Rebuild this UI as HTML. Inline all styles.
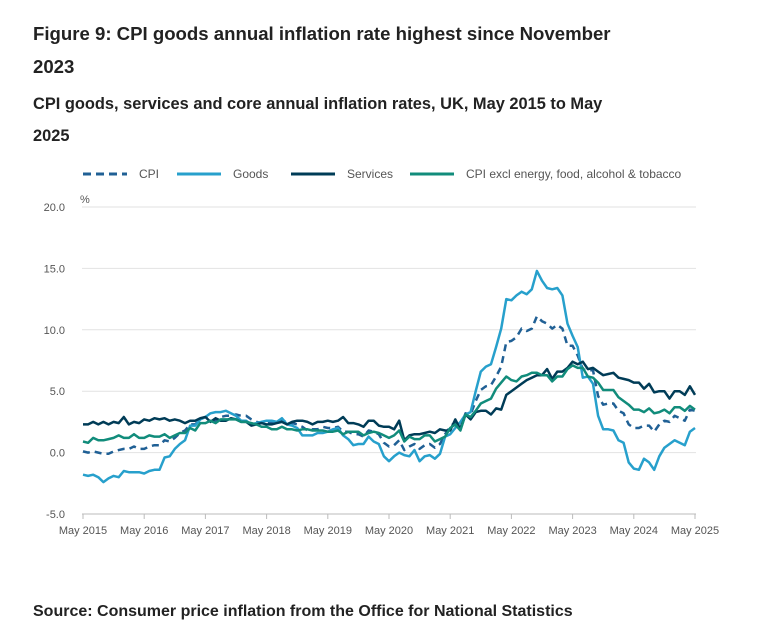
<!DOCTYPE html>
<html><head><meta charset="utf-8"><style>
body{margin:0;background:#fff;font-family:"Liberation Sans",sans-serif;color:#222}
#wrap{position:relative;width:771px;height:636px;overflow:hidden}
h1{position:absolute;left:33px;top:17px;width:600px;margin:0;font-size:18.6px;line-height:33px;font-weight:bold;color:#222}
h2{position:absolute;left:33px;top:88px;width:585px;margin:0;font-size:16.4px;line-height:32px;font-weight:bold;color:#222}
.src{position:absolute;left:33px;top:603px;font-size:16px;font-weight:bold;color:#222}
</style></head><body><div id="wrap">
<h1>Figure 9: CPI goods annual inflation rate highest since November 2023</h1>
<h2>CPI goods, services and core annual inflation rates, UK, May 2015 to May 2025</h2>
<svg id="chart" width="771" height="636" style="position:absolute;left:0;top:0"></svg>
<div class="src">Source: Consumer price inflation from the Office for National Statistics</div>
</div>
<script>
const xLabels=["May 2015","May 2016","May 2017","May 2018","May 2019","May 2020","May 2021","May 2022","May 2023","May 2024","May 2025"];
const yTicks=[-5,0,5,10,15,20];
const cpi=[0.1,0.0,0.1,0.0,-0.1,-0.1,0.1,0.2,
0.3,0.3,0.5,0.3,0.3,0.5,0.6,0.6,1.0,0.9,1.2,1.6,
1.8,2.3,2.3,2.7,2.9,2.6,2.6,2.9,3.0,3.0,3.1,3.0,
3.0,2.7,2.5,2.4,2.4,2.4,2.5,2.7,2.4,2.4,2.3,2.1,
1.8,1.9,1.9,2.1,2.0,2.0,2.1,1.7,1.7,1.5,1.5,1.3,
1.8,1.7,1.5,0.8,0.5,0.6,1.0,0.2,0.5,0.7,0.3,0.6,
0.7,0.4,0.7,1.5,2.1,2.5,2.0,3.2,3.1,4.2,5.1,5.4,
5.5,6.2,7.0,9.0,9.1,9.4,10.1,9.9,10.1,11.1,10.7,10.5,
10.1,10.4,10.1,8.7,8.7,7.9,6.8,6.7,6.7,4.6,3.9,4.0,
4.0,3.4,3.2,2.3,2.0,2.0,2.2,2.2,1.7,2.3,2.6,2.5,
3.0,2.8,2.6,3.5,3.4];
const goods=[-1.8,-1.9,-1.8,-2.0,-2.4,-2.1,-1.9,-2.0,
-1.5,-1.6,-1.6,-1.6,-1.7,-1.5,-1.4,-1.4,-0.4,-0.3,0.3,0.7,
1.0,2.2,2.2,2.7,2.9,3.2,3.3,3.3,3.4,3.2,3.0,2.6,
2.6,2.3,2.4,2.5,2.6,2.6,2.5,2.8,2.3,2.2,2.0,1.4,
1.4,1.4,1.6,1.6,1.7,1.9,2.0,1.4,1.1,0.6,0.7,0.7,
1.3,0.9,0.7,-0.3,-0.7,-0.3,0.0,-0.2,-0.3,0.2,-0.7,-0.3,
-0.2,-0.5,-0.1,1.3,1.5,2.0,2.5,3.1,3.3,5.0,6.6,7.0,
7.2,8.6,10.1,12.5,12.4,12.8,13.1,12.9,13.3,14.8,14.0,13.4,
13.3,13.4,12.8,10.5,9.5,8.6,6.1,6.2,5.6,3.0,1.9,1.9,
1.8,1.0,0.8,-0.8,-1.3,-1.4,-0.5,-0.8,-1.4,-0.3,0.4,0.7,
1.0,0.8,0.6,1.7,2.0];
const services=[2.3,2.3,2.5,2.3,2.5,2.3,2.5,2.4,
2.9,2.3,2.5,2.4,2.7,2.6,2.8,2.7,2.8,2.6,2.7,2.6,
2.4,2.6,2.6,2.8,2.9,2.5,2.8,2.6,2.6,2.8,2.7,2.5,
2.5,2.2,2.3,2.4,2.3,2.3,2.4,2.5,2.3,2.5,2.6,2.6,
2.5,2.3,2.5,2.5,2.6,2.5,2.6,2.9,2.4,2.4,2.3,2.1,
2.6,2.6,2.2,2.1,2.1,1.9,2.6,1.0,1.4,1.5,1.5,1.6,
1.7,1.6,1.9,1.8,1.8,2.7,1.9,3.1,2.7,3.3,3.4,3.4,
3.1,3.6,3.5,4.7,5.0,5.3,5.6,5.9,6.1,6.3,6.3,6.8,
6.0,6.6,6.6,6.9,7.4,7.2,7.4,6.8,6.9,6.6,6.3,6.4,
6.5,6.1,6.0,5.9,5.7,5.7,5.2,5.6,4.9,5.0,5.0,4.4,
5.0,5.0,4.7,5.4,4.7];
const core=[0.9,0.8,1.2,1.0,1.0,1.1,1.2,1.4,
1.2,1.2,1.5,1.2,1.2,1.4,1.3,1.3,1.5,1.2,1.4,1.6,
1.6,2.0,1.8,2.4,2.4,2.6,2.4,2.7,2.7,2.7,2.7,2.5,
2.5,2.4,2.3,2.1,2.1,1.9,1.9,2.1,1.9,1.9,1.8,1.9,
1.9,1.8,1.8,1.8,1.7,1.7,1.8,1.5,1.7,1.7,1.7,1.4,
1.6,1.7,1.6,1.4,1.2,1.4,1.8,0.9,1.3,1.1,1.1,1.4,
1.4,0.9,1.1,1.3,2.0,2.3,1.8,3.1,2.9,3.4,4.0,4.2,
4.4,5.2,5.7,6.2,5.9,5.8,6.2,6.3,6.5,6.5,6.3,6.3,
5.8,6.2,6.2,6.8,7.1,6.9,6.9,6.2,6.1,5.7,5.1,5.1,
5.1,4.5,4.2,3.9,3.5,3.5,3.3,3.6,3.2,3.3,3.5,3.2,
3.7,3.7,3.4,3.8,3.5];
const seriesNames=["CPI","Goods","Services","CPI excl energy, food, alcohol & tobacco"];

const NS="http://www.w3.org/2000/svg";
const svg=document.getElementById('chart');
const X0=83,X1=695,Y0=452.6,PPU=61.4/5;
const xs=i=>X0+(X1-X0)*i/(cpi.length-1);
const ys=v=>Y0-v*PPU;
function mk(t,a){const e=document.createElementNS(NS,t);for(const k in a)e.setAttribute(k,a[k]);svg.appendChild(e);return e;}
yTicks.forEach(v=>{
  const l=mk('line',{x1:X0-1,x2:X1+1,y1:ys(v),y2:ys(v),stroke:v===-5?'#bbb':'#e2e2e2','stroke-width':1});
  
  
  const t=mk('text',{x:65,y:ys(v)+4,'text-anchor':'end','font-size':11,fill:'#555','font-family':'Liberation Sans, sans-serif'});
  t.textContent=v.toFixed(1);
  
  
});
const pc=mk('text',{x:80,y:203,'font-size':11,fill:'#555','font-family':'Liberation Sans, sans-serif'});
pc.textContent='%';


xLabels.forEach((s,k)=>{
  const x=xs(k*12);
  const tk=mk('line',{x1:x,x2:x,y1:514,y2:519,stroke:'#bbb'});
  
  
  const t=mk('text',{x:x,y:534,'text-anchor':'middle','font-size':11,fill:'#555','font-family':'Liberation Sans, sans-serif'});
  t.textContent=s;
  
  
});
const styles=[{c:'#206095',d:'7 5'},{c:'#27a0cc',d:''},{c:'#003c57',d:''},{c:'#118c7b',d:''}];
const data=[cpi,goods,services,core];
const order=[0,1,2,3];
order.forEach(k=>{
  const p=mk('polyline',{points:data[k].map((v,i)=>xs(i).toFixed(1)+','+ys(v).toFixed(1)).join(' '),fill:'none',stroke:styles[k].c,'stroke-width':2.5,'stroke-linejoin':'round'});
  if(styles[k].d)p.setAttribute('stroke-dasharray',styles[k].d);
  
  
});
const legX=[83,177,291,410];
seriesNames.forEach((n,k)=>{
  const l=mk('line',{x1:legX[k],x2:legX[k]+44,y1:174,y2:174,stroke:styles[k].c,'stroke-width':3});
  if(styles[k].d)l.setAttribute('stroke-dasharray','8 5');
  
  
  const t=mk('text',{x:legX[k]+56,y:178,'font-size':12,fill:'#555','font-family':'Liberation Sans, sans-serif'});
  t.textContent=n;
  
  
});
</script></body></html>
